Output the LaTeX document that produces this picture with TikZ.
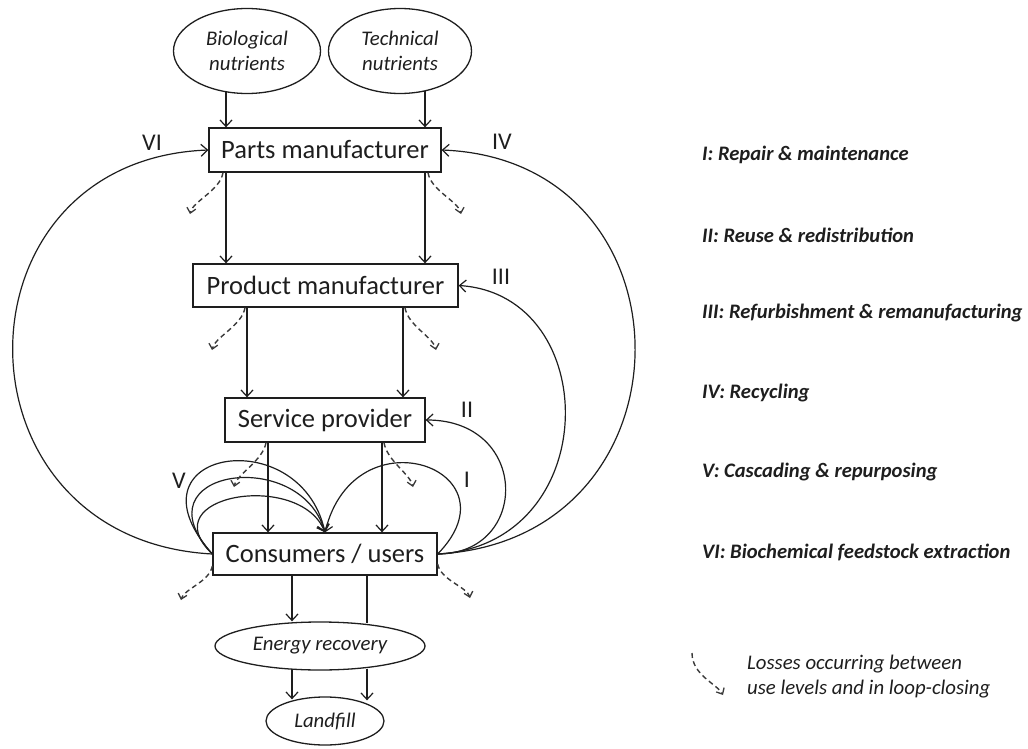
\documentclass[tikz,border=0pt]{standalone}
\usepackage{fontspec}
\setmainfont{Carlito}
\usetikzlibrary{arrows.meta,shapes.geometric,calc}
\definecolor{ink}{HTML}{1E1E1E}
\definecolor{lossink}{HTML}{3A3A3A}
\begin{document}
\begin{tikzpicture}[x=1pt,y=-1pt,
  every node/.style={text=ink},
  boxnode/.style={draw=ink, line width=1.3pt, rectangle, inner sep=0pt, font=\fontsize{26.5}{30}\selectfont},
  ellnode/.style={draw=ink, line width=1.3pt, ellipse, inner sep=0pt, align=center, font=\fontsize{20.8}{25.5}\selectfont\itshape},
  arr/.style={draw=ink, line width=1.2pt, -{Straight Barb[length=6.5pt,width=12pt,line width=1.2pt]}},
  plain/.style={draw=ink, line width=1.2pt},
  loss/.style={draw=lossink, line width=1.4pt, dash pattern=on 5pt off 3.5pt, -{Straight Barb[length=5pt,width=9pt,line width=1.3pt]}},
  numlabel/.style={font=\fontsize{24}{27}\selectfont, inner sep=0pt},
  legend/.style={anchor=west, inner sep=0pt, font=\fontsize{20.6}{24}\selectfont\bfseries\itshape}
]
\useasboundingbox (0,0) rectangle (1028,749);

% nodes
\node[ellnode, minimum width=147pt, minimum height=85pt] (bio) at (247,51) {Biological\\nutrients};
\node[ellnode, minimum width=143pt, minimum height=85pt] (tech) at (400,51) {Technical\\nutrients};
\node[boxnode, minimum width=232pt, minimum height=44pt] (parts) at (325,150) {Parts manufacturer};
\node[boxnode, minimum width=265pt, minimum height=43pt] (product) at (325.5,285.5) {Product manufacturer};
\node[boxnode, minimum width=200pt, minimum height=44pt] (service) at (325,420) {Service provider};
\node[boxnode, minimum width=224pt, minimum height=42pt] (consumers) at (325,554) {Consumers / users};
\node[ellnode, minimum width=210pt, minimum height=48pt] (energy) at (320,646) {Energy recovery};
\node[ellnode, minimum width=118pt, minimum height=48pt] (landfill) at (325,721) {Landfill};

% x positions of vertical connectors
\coordinate (xa) at (226,0);
\coordinate (xb) at (425,0);
\coordinate (xc) at (247,0);
\coordinate (xd) at (403,0);
\coordinate (xe) at (268,0);
\coordinate (xf) at (382,0);
\coordinate (xg) at (292,0);
\coordinate (xh) at (367,0);

% vertical flows
\draw[arr] ([yshift=3pt]xa |- bio.south) -- (xa |- parts.north);
\draw[arr] ([yshift=3pt]xb |- tech.south) -- (xb |- parts.north);
\draw[arr] (xa |- parts.south) -- (xa |- product.north);
\draw[arr] (xb |- parts.south) -- (xb |- product.north);
\draw[arr] (xc |- product.south) -- (xc |- service.north);
\draw[arr] (xd |- product.south) -- (xd |- service.north);
\draw[arr] (xe |- service.south) -- (xe |- consumers.north);
\draw[arr] (xf |- service.south) -- (xf |- consumers.north);
\draw[arr] (xg |- consumers.south) -- (xg |- energy.north);
\draw[plain] (xh |- consumers.south) -- ([yshift=-2pt]xh |- energy.north);
\draw[arr] ([yshift=2pt]xg |- energy.south) -- ([yshift=-3pt]xg |- landfill.north);
\draw[arr] ([yshift=2pt]xh |- energy.south) -- ([yshift=-4pt]xh |- landfill.north);

% loops
\draw[arr] (consumers.west) .. controls (-53,540) and (-53,160) .. (parts.west);
\draw[arr] (consumers.east) .. controls (700,540) and (700,160) .. (parts.east);
\draw[arr] (consumers.east) .. controls (604,545) and (604,295) .. (product.east);
\draw[arr] (consumers.east) .. controls (530,554) and (530,420) .. (service.east);
\draw[arr] (consumers.east) .. controls (520,470) and (355,410) .. (consumers.north);
\draw[arr] (consumers.west) .. controls (120,450) and (300,420) .. (consumers.north);
\draw[arr] (consumers.west) .. controls (135,470) and (300,445) .. (consumers.north);
\draw[arr] (consumers.west) .. controls (150,495) and (300,470) .. (consumers.north);

% losses
\draw[loss] ([xshift=-3pt]xa |- parts.south) .. controls +(-3,18) and +(3,-13) .. (190,214);
\draw[loss] ([xshift=3pt]xb |- parts.south) .. controls +(3,18) and +(-3,-13) .. (461,214);
\draw[loss] ([xshift=-2pt]xc |- product.south) .. controls +(-3,18) and +(3,-13) .. (212,350);
\draw[loss] ([xshift=2pt]xd |- product.south) .. controls +(3,18) and +(-3,-13) .. (436,350);
\draw[loss] ([xshift=-2pt]xe |- service.south) .. controls +(-3,18) and +(3,-13) .. (234,487);
\draw[loss] ([xshift=2pt]xf |- service.south) .. controls +(3,18) and +(-3,-13) .. (413,487);
\draw[loss] ([yshift=-12pt]consumers.west) .. controls +(-3,16) and +(3,-11) .. (181,600);
\draw[loss] ([yshift=-10pt]consumers.east) .. controls +(3,16) and +(-3,-11) .. (470,598);

% loop labels
\node[numlabel] (lVI) at (152,143) {VI};
\node[numlabel] (lIV) at (502,142) {IV};
\node[numlabel] (lIII) at (501,277) {III};
\node[numlabel] (lII) at (467,410) {II};
\node[numlabel] (lI) at (467,480) {I};
\node[numlabel] (lV) at (179,481) {V};

% legend
\node[legend] (g1) at (702,155) {I: Repair \& maintenance};
\node[legend] (g2) at (702,235) {II: Reuse \& redistribution};
\node[legend] (g3) at (702,313) {III: Refurbishment \& remanufacturing};
\node[legend] (g4) at (702,393) {IV: Recycling};
\node[legend] (g5) at (702,472) {V: Cascading \& repurposing};
\node[legend] (g6) at (702,552) {VI: Biochemical feedstock extraction};

\coordinate (ls) at (692,653);
\coordinate (le) at (723,695);
\draw[loss] (ls) .. controls +(0,22) and +(-6,-11) .. (le);
\node[anchor=west, inner sep=0pt, align=left, font=\fontsize{20.8}{25}\selectfont\itshape] (gl) at (747,677) {Losses occurring between\\use levels and in loop-closing};
\end{tikzpicture}
\end{document}
